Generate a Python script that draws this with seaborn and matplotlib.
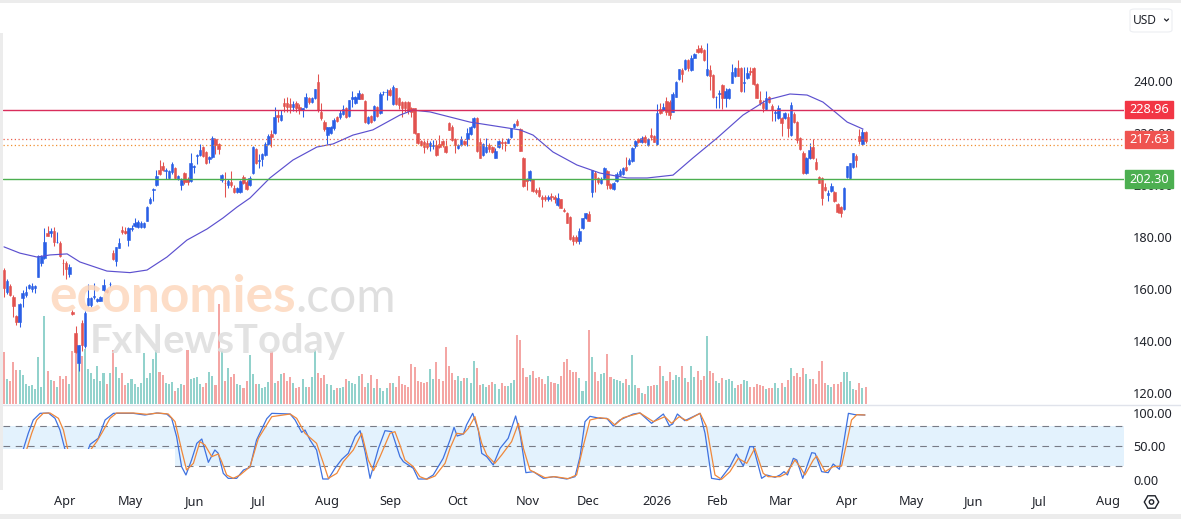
import numpy as np
import pandas as pd
import matplotlib
matplotlib.use('Agg')
import matplotlib.pyplot as plt
from matplotlib.patches import Rectangle, FancyBboxPatch, RegularPolygon, Circle
from matplotlib.lines import Line2D
import seaborn as sns

sns.set_style('white')
plt.rcParams['font.family'] = ['Noto Sans', 'DejaVu Sans']

opens = [167.3,158.8,161.2,156.9,149.6,147.3,156.5,157.7,160.4,160,
    160.2,164.6,170,171.9,181.5,181.5,182.3,177.9,177.7,170,
    170,165.8,151,143,131.5,147,138,154,154,157,
    155.4,155.4,159.6,159.5,161.8,173.8,170.8,175.8,182.7,182.3,
    178.8,183,184.2,183.8,183.8,184,186.2,193.1,198,200,
    205.8,207.3,205.5,202.7,205,206.5,202.3,200,204.6,202.3,
    201.5,206.9,211,211.5,214.6,212.7,210,210.8,217.7,215.8,
    201.9,200.9,200,201.3,199,197.3,197.3,203,201.3,200,
    204.6,213.8,209.4,210,211.5,215.8,219.6,219.9,226.9,225,
    231.7,231.7,231,230,231.4,230,229,230,233.3,231.9,
    233.4,239.7,228.2,224.3,219.2,220,221.8,226.3,226,227.3,
    229.5,226.5,233,231.5,233,235,232.4,224,226.5,225,
    229.9,227.8,235.7,235.6,236.5,231.1,237.2,233.3,232,232,
    232,229.5,229.5,219.9,216.9,216.7,216.3,215,215,215.4,
    215.8,217,215,223.7,222.4,217.6,214.1,215.4,217,217.6,
    219.6,222.2,225.7,216.7,211.5,212.8,215.4,214.7,210.5,214.7,
    216.4,216.4,216.3,218.6,222.4,224.7,221.4,210.3,202.3,201.9,
    202.2,198,198,195.3,195.3,194.5,195.8,195.5,192.3,194.5,
    190.4,189.1,187.8,180.1,180.1,178.6,183.3,187.2,188.8,197.4,
    204.7,202.7,200.7,202.8,205.4,200.4,198.4,201.7,203.8,204.2,
    206.8,208,209.3,215,217.6,216.7,218.3,215.4,219.2,218.8,
    215.8,229.2,228.8,232.3,232,228.2,234,240.8,244.3,244.6,
    248,244.2,249,252.3,252.8,251.9,242.3,244.2,242.3,233.7,
    235,238.5,233.3,233.3,239.4,242,244.9,244.9,239.2,241,
    243.8,244.9,238.8,232.7,231.4,229.2,234,230.5,227.8,225.7,
    225.9,225.9,226.3,219.2,227.2,224.3,218,212.4,204.7,210.3,
    214.7,209,203,202.6,199.1,196.2,197.8,197.4,192.7,191.4,
    190.7,203,202.7,207,211.3,218.8,215.8,220.3]

highs = [168,164,162,157.7,150,154.6,159.6,161.2,161.8,162.5,
    161.5,173,173,183.5,184.2,183.5,184,182,178.5,171.5,
    170.8,169.5,152,145.8,138.6,148,151.5,162,157,162.5,
    156.6,157.3,163.8,160,162.7,175,176.3,179.7,184.2,183.8,
    184,184.8,187.3,186.5,186,185.8,191.8,195.5,198.8,205.8,
    209.6,209,206.5,205.8,209,207,204,202.6,205,203,
    212.3,207.8,211.8,215.8,215,213,211.1,219,218,216.3,
    204.2,205.1,202.3,205.4,200,199.2,202,203.7,201.8,203.4,
    215,214.2,212,212.3,216.7,219.5,221.2,230.1,228.8,228.8,
    233.3,233.7,233.3,232.4,232.4,231.2,229.8,235.4,233.8,233.7,
    237,242.7,231.5,225,222.5,222.7,225.6,226.6,229,230.8,
    230,232.8,236,234.4,236.4,235.3,232.7,226.5,227,230.6,
    230.4,235.6,236.3,237,237.2,238.5,237.5,233.8,232.5,232.5,
    232.5,230,229.8,220,217.5,217.5,217.5,217,217.5,217.5,
    219.2,217.5,217.5,224.3,223,218,215.8,219,217.5,222,
    222.8,226.2,226,218,216,218,216,215.1,214.3,217.3,
    218,217,218,222.1,223.8,225.5,221.8,210.7,202.7,205.8,
    202.5,199,199.2,196,196,196.3,196.8,196.2,196.8,194.8,
    191.2,189.6,188.2,180.8,180.8,183.3,187.5,189.4,190,205.8,
    205.5,203,203,207,205.8,200.8,201,205,206,207,
    210.9,210.3,214.6,217.5,218,219,219.3,217.9,222,219.2,
    231,231.5,231.5,233.8,232.8,235.6,240,244.8,245.1,248.6,
    248.5,250,250.6,254,254,252.2,254.5,246,242.8,234.2,
    236.5,239,237.3,237.5,246.5,245.5,248,245.2,245.5,245.5,
    245.5,245.2,239.2,236,232.7,236,234.4,231,229,230.6,
    226.3,228,227.6,232,228,224.8,218.5,213,210.6,216.3,
    217.6,210.3,203.5,203,200.6,197.9,200.6,197.8,193.2,192,
    199.2,207.5,208.5,212.4,211.8,221.4,221.4,220.8]

lows = [157,158,157.5,149.2,146.2,145.4,153.1,157,160,159,
    158.6,164.6,169,171.5,180.2,180,176.5,177.6,172.2,165.2,
    163.8,164.5,150,135.5,128.5,136,137.5,153.5,153,156,
    155,155.2,159.2,158.5,160.8,171,168.8,175.6,181.2,181,
    176.5,182.2,183.8,183.3,183.4,183.6,186,192.8,194,199.5,
    203.8,205.5,202.5,202.2,204.3,202.2,202,198,200.2,200,
    201.2,204.5,208,211.2,210.8,208.2,208.5,210.4,212,211.8,
    201,195.5,198.8,199.4,197,197,197,200.2,198.2,199.7,
    204.2,208.2,206.5,207.4,211.2,215.5,214.7,219.5,224.3,224.7,
    228.2,228,227.6,228.6,227.9,227.3,226,229.6,231.3,231.5,
    233,228.2,225,220.8,215.8,219.6,221,224.2,225.3,226.8,
    225.9,226,230,231,232.9,232.9,224,223.6,224,224.6,
    226.1,227.4,234.8,232.6,234.2,230.8,230.8,229.3,226.3,228.2,
    227.5,226.3,219.5,215.8,215,212.5,213.8,213,213.8,211.3,
    214.2,214.8,212.3,221,216.9,212.5,213.9,215,215.5,214.9,
    219.2,221.8,212.8,210.3,211.2,212.4,212.6,212.4,210.2,214.3,
    213.7,213.2,216,218.2,221.8,222.6,212.9,199.3,198,201.4,
    197.4,196.5,195.5,191.7,193.9,193.9,193.9,193.1,192,191,
    189.5,185.2,178.8,177,177.8,177.2,183,187,186,195.5,
    197.5,200.5,200.4,202.5,198.5,198.5,198.1,201.3,203.4,203.9,
    205.5,207.7,209,214.2,216.3,216.2,216,215,217.5,216.4,
    215.5,227.4,228.5,226.8,225.3,228,233.8,240.5,239.7,244.2,
    244,244,248.7,250.8,250.8,247.7,241.8,236.7,233.4,229.5,
    229.5,229.2,230,233,239.1,241.6,241.9,235.9,235.9,240.6,
    242.3,238.5,233.3,230.9,228,228.8,231.6,224.6,224.6,225.3,
    218.7,225.5,218.6,218.8,223.7,216.3,213.3,204.2,204.4,210,
    209.9,205.7,200.6,192.3,197.7,193.7,197.4,193.5,189.4,187.8,
    190.4,202.6,202.2,206.7,207,215.8,215.4,216.2]

closes = [160.4,163,157.7,153.5,147.3,154.2,158.5,158.8,161.5,161.2,
    161.2,172.7,172.7,178,180.4,182.3,178,178.2,172.7,169.9,
    167.7,168.5,150.5,135.8,138.5,138.5,150.8,156.5,156.5,157.2,
    156.1,157,161.5,158.8,162,171.5,176,177.7,181.9,181.5,
    183.5,183.6,185.4,185.8,185.4,185.3,191.5,194.7,198.5,203.5,
    204.2,205.8,205.8,205.4,208,202.7,203.5,201.9,201.2,201.2,
    208.5,207.3,211.5,213.5,211,208.5,210.8,218,215.4,213.8,
    203.8,200.7,201.5,200,197.3,198.8,201.5,200.8,198.5,202.7,
    214.6,208.5,209.8,212,215.8,218.8,218.3,226.3,226,226.9,
    230.4,230,230,231,229.5,229,229.5,233.8,231.8,233.4,
    236.9,228.8,225.7,221.4,222.2,222.4,225,224.6,227.7,229.1,
    226.3,232.7,233.8,233.8,235.5,233,224.3,226,224.3,230.4,
    226.5,235,235.9,235.9,234.6,237.8,231.2,230.8,229.5,229.5,
    228.6,228.2,219.9,216,215.4,214.7,214.5,216.3,215.5,211.5,
    214.7,215.4,212.8,221.2,217.3,215.4,215.4,217.6,215.8,219.9,
    222.2,225.7,213,210.5,215.8,214.5,213.7,212.8,213.2,217,
    216,216.1,217.6,221.8,223.3,223,213.1,199.6,201.6,205.5,
    197.7,197.4,195.8,194.5,194.5,195.3,195.5,194.5,194.9,191.3,
    190,185.5,179.1,178.6,178.6,182.4,187.2,189.1,186.3,205.8,
    202.6,201.3,202.3,206.4,200,198.8,200.7,204.2,205.5,206.7,
    205.8,209.6,214.4,216.9,216.7,218.2,216.7,217.6,218.3,216.7,
    227.6,227.6,230.1,228,226.9,234.9,239.7,244.6,242.6,248,
    245.1,249,250.3,251.3,251.3,248,244.5,242,233.7,233.8,
    235.5,233.3,236.2,236.9,243.3,245.1,242,236.2,239.7,243.2,
    243.3,238.8,233.6,231.4,229.5,233.3,232,228.8,228,229.7,
    223.7,227.6,221.8,230.8,224.1,217.3,213.7,204.5,210.3,213.5,
    210.3,206,200.9,194.9,198.1,196.8,199.6,193.8,189.7,189.1,
    199,207.3,208.3,212.2,209.6,217,220.5,217]

volumes = [157,75,68,125,102,102,87,60,55,57,
    45,142,52,264,100,72,68,52,84,75,
    84,60,159,177,152,144,164,105,92,75,
    115,69,92,60,92,162,111,79,93,57,
    64,74,60,52,62,152,77,
    92,134,162,95,87,62,60,65,39,49,
    59,57,162,75,77,80,60,50,62,95,
    85,57,300,159,69,107,82,89,60,57,
    49,69,146,90,60,60,49,52,67,159,
    62,69,89,94,69,82,62,47,50,75,
    52,50,82,162,92,79,87,60,57,42,
    47,49,50,75,70,64,59,85,89,51,
    62,87,48,75,47,39,48,64,62,52,
    84,60,57,50,120,111,70,66,64,65,
    105,75,126,75,69,171,114,93,72,84,
    69,78,78,63,129,108,57,60,51,57,
    66,60,45,63,54,54,63,72,207,192,
    108,81,87,99,78,81,75,60,84,66,
    63,60,84,126,135,102,96,96,78,39,
    69,222,141,96,69,90,93,150,81,75,72,
    69,63,75,57,147,57,48,33,30,54,54,
    57,57,114,84,69,96,72,87,81,114,
    78,66,114,81,99,72,84,204,99,93,
    69,63,78,72,75,69,48,57,60,72,
    69,51,51,60,57,54,45,48,48,63,
    48,63,51,72,108,84,93,
    81,108,90,75,75,60,99,129,63,57,
    51,60,60,66,96,96,69,45,42,63,48,51]

ma_bars = [0,5.1,10.6,14.8,20.3,24.4,33.1,40.5,46,52.4,58.8,65.3,70.4,74.9,79.1,85.5,92.9,100.6,105.8,112.2,
    118.6,127.3,131.5,137,149.8,165.9,170.1,176.5,184.2,191.6,200.3,206.8,215.1,221.5,229.3,237.6,245.3,252.7,258.2,263.3,
    267.2,271.1,276.2]
ma_vals = [176.2,173.8,172.3,173.1,173.5,170.4,166.9,166.3,167.3,172.3,178.8,183.1,187.3,191.5,195,202.7,209.6,214.6,215.8,219.2,
    221.2,226.9,228.8,228.1,224.2,221.2,219.2,212.7,207.7,204.6,202.7,202.7,203.8,210.4,218.1,226.9,232.7,235,234.6,231.9,
    228.1,224.2,221.5]

k_bars = [6.2,7.8,9.4,11.6,14.3,16.4,18,19.1,19.6,23,27.1,27.7,30.3,32.5,35.2,41.6,45.3,49.1,52.3,53.9,
    55.5,57.1,58.5,60.3,62,63.6,65.7,67.8,68.9,70.5,72.1,74.8,77,79.1,81.2,84.5,86.1,92,93.6,95.7,
    96.8,98.4,100.5,102.5,104.3,106.4,108.6,110.7,112.9,114.5,116.1,117.7,120.4,122.5,124.7,127.3,128.4,131.6,133.2,135.9,
    138,141.2,143.4,144.7,145.7,147.7,148.7,150.7,152.5,153.6,155.2,157.3,159.5,162.1,164.5,165.9,167.8,170.2,173.4,176.6,
    180.9,183.6,185.2,186.8,188.4,191.6,193.8,195.9,198,202.3,204.5,208.2,212,213.9,215,216.5,218.9,223.8,225.4,227.5,
    230.2,233.4,235.5,237.7,239.8,240.9,243.6,245.2,247.9,249.5,250.8,251.9,253.8,254.9,256.8,259.7,260.8,262.9,265,266.6,
    268.6,271.5,273.6,276.8]
k_vals = [45.5,69.5,89.5,99.5,100,92,74.5,54.5,45.5,15,45.5,53,62,89.5,99.5,99.5,97,100,98.5,92,
    64.5,19.5,7,29.5,54.5,61,26,44.5,39.5,9.5,2,2,14.5,18.5,59.5,91.5,99.5,98.5,89.5,71,
    74.5,59.5,44.5,1,1,17,30.5,39.5,64.5,73.5,42,2,47,73.5,72,34.5,27,17,1,1,
    7,32,59.5,78.5,65.5,68.5,82,99.5,74.5,39.5,34.5,22,47,62,95.5,69.5,10.5,12,2,4.5,
    1,4.5,34.5,87,95,92,92,80.5,89.5,98.5,100,84.5,98.5,81,83.5,98.5,88.5,99.5,69.5,2,
    0,19.5,38.5,20.5,49.5,49.5,2,7,3.5,7,12,7,32,29.5,2,40.5,39.5,12,10.5,23.5,
    15.5,99.5,97.5,97]

d_bars = [7.3,8.9,10.5,12.6,14.8,17.5,19.1,20.5,24,28.2,29.8,31.4,34.1,36.2,41.6,45.9,49.6,52.8,55,57.1,
    58.7,60.9,63,64.6,66.8,68.9,70,71.6,73.7,75.9,79.1,81.8,86.1,92,94.1,96.8,100.5,102.7,104.3,107,
    109.1,112.3,115,117.1,118.8,120.9,124.1,125.7,127.3,128.9,131.6,133.7,135.9,138.6,141.8,143.4,145.5,147.7,149.3,151.4,
    153.6,155.2,157.8,160,163.2,165.4,167,169.1,171.2,173.9,177.1,181.4,184.1,186.2,188.4,191.6,194.3,196.4,199.1,204.5,
    208.8,212.5,214.6,217.1,219.5,223.8,225.9,228.6,230.7,233.4,236.1,238.8,241.4,244.1,245.7,248.4,249.5,251.6,254.3,255.9,
    257.5,260.2,261.3,264,266.6,269.3,270.9,272.5,274.2,276.8]
d_vals = [45.5,69.5,89.5,99.5,100,92,74.5,45.5,15,47,57,69.5,92,100,100,98,100,98.5,87,44.5,
    14.5,24.5,57,52,34.5,38.5,27,7,2,7,19.5,62,94.5,98.5,92,69.5,54.5,24.5,2,9.5,
    27,44.5,69.5,29.5,13.5,34.5,69.5,72,52,29.5,19.5,4.5,0.5,5.5,24.5,47,69.5,68.5,77,94.5,
    54.5,37,24.5,37,57,84.5,47,14.5,9.5,3,4.5,1.5,7,49.5,89.5,93,91,82,93,100,
    87,94.5,84.5,94.5,88.5,99.5,79.5,7,0.5,12,32,24.5,47,9.5,4.5,4.5,4.5,9.5,29.5,19.5,
    7,29.5,35.5,12,19.5,20.5,54.5,89.5,97.5,97]

month_pos = [19.6,40.5,61.4,81.7,103.9,124.4,145.7,168.5,187.8,210,229.6,249.8,270.8,291.6,311.9,332.8,355]
month_labels = ['Apr','May','Jun','Jul','Aug','Sep','Oct','Nov','Dec','2026','Feb','Mar','Apr','May','Jun','Jul','Aug']
price_ticks = [120,140,160,180,200,220,240]
stoch_ticks = [0,50,100]
level_vals = [228.96,217.63,202.30]
level_cols = ['#f23645','#ef5350','#4caf50']

W, H = 1181, 519
XL, XR = -0.32, 360.1

def rect_px(x0, y0, x1, y1):
    return [x0/W, 1-y1/H, (x1-x0)/W, (y1-y0)/H]

fig = plt.figure(figsize=(W/100, H/100), dpi=100, facecolor='white')
ax_vol = fig.add_axes(rect_px(3, 4, 1124, 404))
ax = fig.add_axes(rect_px(3, 4, 1124, 404))
ax_st = fig.add_axes(rect_px(3, 404, 1124, 490))
ax.patch.set_visible(False)

bars = np.arange(len(closes))
o, h, l, c = map(np.array, (opens, highs, lows, closes))
up = c >= o

# volume
ax_vol.bar(bars, volumes, width=0.66, color=np.where(up, '#92d2cc', '#f4a6a4'), linewidth=0)
ax_vol.set_ylim(0, 1200)

# candles
cols = np.where(up, '#2a5fe6', '#e2524f')
ax.vlines(bars, l, h, colors=cols, linewidth=0.75)
ax.bar(bars, np.abs(c-o), bottom=np.minimum(o, c), width=0.8, color=cols, edgecolor=cols, linewidth=0.4)

ma = pd.DataFrame({'bar': ma_bars, 'val': ma_vals})
sns.lineplot(data=ma, x='bar', y='val', ax=ax, color='#5c50cf', linewidth=0.85, sort=False, estimator=None)

ax.axhline(level_vals[0], color='#d92d5b', linewidth=1)
ax.axhline(level_vals[1], color='#e8604f', linewidth=0.9, linestyle=(0, (1, 2)))
ax.axhline(215.4, color='#f09030', linewidth=0.9, linestyle=(0, (1, 2)))
ax.axhline(level_vals[2], color='#4caf50', linewidth=1)

ax.set_ylim(240-(404-81)/2.6, 240+(81-4)/2.6)
ax.set_yticks(price_ticks)
ax.set_yticklabels(['%.2f' % t for t in price_ticks])
ax.yaxis.tick_right()
ax.tick_params(axis='y', length=0, pad=6.5, labelsize=9.2, labelcolor='#20232b')
ax.set_xticks([])
ax.set_xlabel('')
ax.set_ylabel('')

# price badges
trans = ax.get_yaxis_transform()
for val, col in zip(level_vals, level_cols):
    ax.add_patch(Rectangle((1.0005, val-3.3), 0.043, 6.6, transform=trans, color=col, clip_on=False, zorder=5))
    ax.text(1.0222, val-0.1, '%.2f' % val, transform=trans, color='white', fontsize=9.2,
            fontweight='bold', ha='center', va='center', zorder=6)

# watermark
fig.text(49/W, 1-312/H, 'economies', color='#fdd8bd', fontsize=37, family='Lato', fontweight='bold', alpha=0.85, zorder=7)
fig.text(295/W, 1-312/H, '.com', color='#dcdcdc', fontsize=34.5, family='Lato', alpha=0.9, zorder=7)
fig.text(90/W, 1-353/H, 'FxNewsToday', color='#dedede', fontsize=28.7, family='Lato', fontweight='bold', alpha=0.88, zorder=7)

# stochastic panel
ax_st.axhspan(20, 80, color='#e3f2fd', linewidth=0, zorder=0)
for lev in [20, 50, 80]:
    ax_st.axhline(lev, color='#787b86', linewidth=0.8, linestyle=(0, (6, 5)), zorder=1)
k_df = pd.DataFrame({'bar': k_bars, 'val': k_vals})
d_df = pd.DataFrame({'bar': d_bars, 'val': d_vals})
sns.lineplot(data=k_df, x='bar', y='val', ax=ax_st, color='#3f72e0', linewidth=0.9, sort=False, estimator=None, zorder=3)
sns.lineplot(data=d_df, x='bar', y='val', ax=ax_st, color='#f0883a', linewidth=0.9, sort=False, estimator=None, zorder=3)
ax_st.add_patch(Rectangle((XL, -15.5), 55.3, 61.5, color='white', linewidth=0, zorder=4))
ax_st.set_ylim(-15.5, 113.5)
ax_st.set_yticks(stoch_ticks)
ax_st.set_yticklabels(['%.2f' % t for t in stoch_ticks])
ax_st.yaxis.tick_right()
ax_st.tick_params(axis='y', length=0, pad=6.5, labelsize=9.2, labelcolor='#20232b')
ax_st.set_xticks(month_pos)
ax_st.set_xticklabels(month_labels)
ax_st.tick_params(axis='x', length=0, pad=3.5, labelsize=9.2, labelcolor='#20232b')
for lab in ax_st.get_xticklabels():
    if lab.get_text() == '2026':
        lab.set_fontweight('bold')
ax_st.set_xlabel('')
ax_st.set_ylabel('')

for a in (ax_vol, ax, ax_st):
    a.set_xlim(XL, XR)
    sns.despine(ax=a, left=True, bottom=True, right=True, top=True)
ax_vol.set_xticks([])
ax_vol.set_yticks([])

# frame bits, USD button and settings icon
fig.add_artist(Line2D([3/W, 1], [1-404.5/H]*2, color='#e0e3eb', linewidth=1))
for x0, y0, x1, y1 in [(0, 0, W, 3), (0, 514, W, H), (0, 33, 3, 490)]:
    fig.add_artist(Rectangle((x0/W, 1-y1/H), (x1-x0)/W, (y1-y0)/H, color='#ececec', linewidth=0,
                             transform=fig.transFigure))

fig.add_artist(FancyBboxPatch((1130/W, 1-32/H), 42/W, 23/H, boxstyle='round,pad=0,rounding_size=0.004',
                              facecolor='white', edgecolor='#eceef2', linewidth=0.8, transform=fig.transFigure))
fig.text(1132.5/W, 1-20/H, 'USD', fontsize=8.6, color='#20232b', va='center', ha='left')
fig.add_artist(Line2D([1164.5/W, 1166.5/W, 1168.5/W], [1-19/H, 1-21/H, 1-19/H], color='#20232b', linewidth=0.9))

ax_icon = fig.add_axes([0, 0, 1, 1], facecolor='none')
ax_icon.set_xlim(0, W)
ax_icon.set_ylim(H, 0)
ax_icon.axis('off')
ax_icon.add_patch(RegularPolygon((1151.5, 502), 6, radius=7.2, orientation=np.pi/2, facecolor='none', edgecolor='#20232b', linewidth=1))
ax_icon.add_patch(Circle((1151.5, 502), 2.2, facecolor='none', edgecolor='#20232b', linewidth=1))

fig.savefig('out.png', dpi=100)
